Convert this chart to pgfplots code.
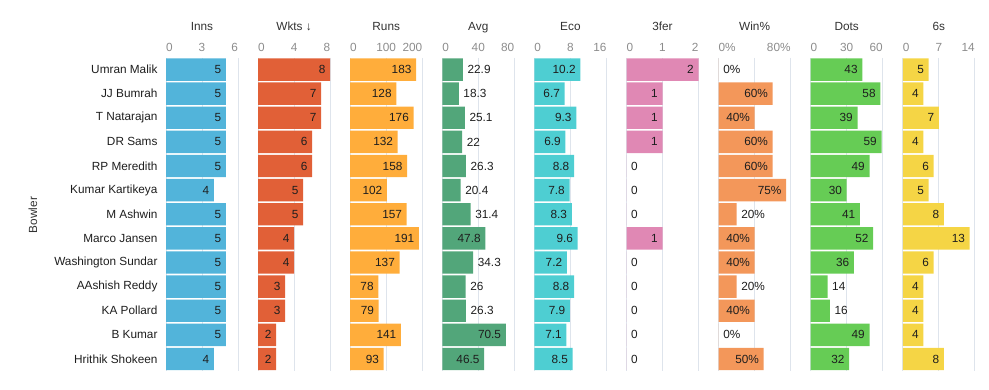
\documentclass[border=0pt]{standalone}
\usepackage{fontspec}
\setmainfont{Liberation Sans}
\usepackage{pgfplots}
\usepackage{pgfplotstable}
\pgfplotsset{compat=1.18}
\definecolor{cInns}{RGB}{82,180,218}
\definecolor{cWkts}{RGB}{225,96,55}
\definecolor{cRuns}{RGB}{255,173,59}
\definecolor{cAvg}{RGB}{82,166,122}
\definecolor{cEco}{RGB}{78,206,210}
\definecolor{cFer}{RGB}{224,136,180}
\definecolor{cWin}{RGB}{243,151,90}
\definecolor{cDots}{RGB}{102,204,85}
\definecolor{cSix}{RGB}{245,213,69}
\definecolor{gridc}{RGB}{222,228,236}
\definecolor{tickc}{RGB}{140,140,140}
\definecolor{titlec}{RGB}{50,50,50}
\definecolor{valc}{RGB}{30,30,30}
\newcommand\valfont{\fontsize{11.8}{13}\selectfont}
\newcommand\lft[1]{\makebox[0pt][l]{#1}}
\newcommand\rgt[1]{\makebox[0pt][r]{#1}}
\pgfplotstableread{
row inns wkts runs avg eco fer win dots six aa fa wa da
1 5 8 183 22.9 10.2 2 0 43 5 west east west east
2 5 7 128 18.3 6.7 1 60 58 4 west east east east
3 5 7 176 25.1 9.3 1 40 39 7 west east east east
4 5 6 132 22 6.9 1 60 59 4 west east east east
5 5 6 158 26.3 8.8 0 60 49 6 west west east east
6 4 5 102 20.4 7.8 0 75 30 5 west west east east
7 5 5 157 31.4 8.3 0 20 41 8 west west west east
8 5 4 191 47.8 9.6 1 40 52 13 east east east east
9 5 4 137 34.3 7.2 0 40 36 6 west west east east
10 5 3 78 26 8.8 0 20 14 4 west west west west
11 5 3 79 26.3 7.9 0 40 16 4 west west east west
12 5 2 141 70.5 7.1 0 0 49 4 east west west east
13 4 2 93 46.5 8.5 0 50 32 8 east west east east
}\data
\tikzset{ttl/.style={font=\valfont, text=titlec, anchor=base, yshift=27.5pt}}
\pgfplotsset{
  /pgf/number format/assume math mode=true,
  panel/.style={
    scale only axis, width=72pt, height=313.5pt, anchor=north west,
    xbar, bar width=22.4pt, xmin=0, ymin=0.5, ymax=13.5, y dir=reverse,
    ytick={1,...,13}, yticklabels={},
    axis line style={draw=none}, major tick length=0pt,
    xmajorgrids, grid style={color=gridc, line width=0.7pt},
    xticklabel pos=upper,
    xticklabel style={font=\valfont, text=tickc, anchor=base, yshift=6pt},
    clip=false,
  },
  bars/.style={fill=#1, draw=none},
  vals/.style={nodes near coords, point meta=x,
    nodes near coords style={font=\valfont, text=valc, inner xsep=4.5pt, anchor=east}},
  valsv/.style={point meta=explicit symbolic,
    nodes near coords={\pgfmathprintnumber{\pgfkeysvalueof{/data point/x}}#1},
    nodes near coords style={font=\valfont, text=valc, inner xsep=4.5pt, anchor=\pgfplotspointmeta}},
}
\begin{document}
\begin{tikzpicture}
\useasboundingbox (0pt,0pt) rectangle (989pt,-389pt);
\node[font=\valfont, text=titlec, rotate=90] at (33pt,-215pt) {Bowler};
% Inns
\begin{axis}[panel, at={(166pt,-57.5pt)}, xmax=6, xtick={0,3,6}, xticklabels={\lft{0},3,\rgt{6}},
  yticklabels={Umran Malik,JJ Bumrah,T Natarajan,DR Sams,RP Meredith,Kumar Kartikeya,M Ashwin,Marco Jansen,Washington Sundar,AAshish Reddy,KA Pollard,B Kumar,Hrithik Shokeen},
  yticklabel style={font=\valfont, text=valc, anchor=east, xshift=-5pt}]
\addplot[bars=cInns, vals] table[x=inns,y=row]{\data};
\node[ttl] at (axis description cs:0.5,1) {Inns};
\end{axis}
% Wkts
\begin{axis}[panel, at={(258.1pt,-57.5pt)}, xmax=8, xtick={0,4,8}, xticklabels={\lft{0},4,\rgt{8}}]
\addplot[bars=cWkts, vals] table[x=wkts,y=row]{\data};
\node[ttl] at (axis description cs:0.5,1) {Wkts ↓};
\end{axis}
% Runs
\begin{axis}[panel, at={(350.2pt,-57.5pt)}, xmax=200, xtick={0,100,200}, xticklabels={\lft{0},100,\rgt{200}}]
\addplot[bars=cRuns, vals] table[x=runs,y=row]{\data};
\node[ttl] at (axis description cs:0.5,1) {Runs};
\end{axis}
% Avg
\begin{axis}[panel, at={(442.3pt,-57.5pt)}, xmax=80, xtick={0,40,80}, xticklabels={\lft{0},40,\rgt{80}}]
\addplot[bars=cAvg, valsv={}] table[x=avg,y=row,meta=aa]{\data};
\node[ttl] at (axis description cs:0.5,1) {Avg};
\end{axis}
% Eco
\begin{axis}[panel, at={(534.4pt,-57.5pt)}, xmax=16, xtick={0,8,16}, xticklabels={\lft{0},8,\rgt{16}}]
\addplot[bars=cEco, vals] table[x=eco,y=row]{\data};
\node[ttl] at (axis description cs:0.5,1) {Eco};
\end{axis}
% 3fer
\begin{axis}[panel, at={(626.5pt,-57.5pt)}, xmax=2, xtick={0,1,2}, xticklabels={\lft{0},1,\rgt{2}}]
\addplot[bars=cFer, valsv={}] table[x=fer,y=row,meta=fa]{\data};
\node[ttl] at (axis description cs:0.5,1) {3fer};
\end{axis}
% Win%
\begin{axis}[panel, at={(718.6pt,-57.5pt)}, xmax=80, xtick={0,40,80}, xticklabels={\lft{0\%},,\rgt{80\%}}]
\addplot[bars=cWin, valsv={\%}] table[x=win,y=row,meta=wa]{\data};
\node[ttl] at (axis description cs:0.5,1) {Win\%};
\end{axis}
% Dots
\begin{axis}[panel, at={(810.7pt,-57.5pt)}, xmax=60, xtick={0,30,60}, xticklabels={\lft{0},30,\rgt{60}}]
\addplot[bars=cDots, valsv={}] table[x=dots,y=row,meta=da]{\data};
\node[ttl] at (axis description cs:0.5,1) {Dots};
\end{axis}
% 6s
\begin{axis}[panel, at={(902.8pt,-57.5pt)}, xmax=14, xtick={0,7,14}, xticklabels={\lft{0},7,\rgt{14}}]
\addplot[bars=cSix, vals] table[x=six,y=row]{\data};
\node[ttl] at (axis description cs:0.5,1) {6s};
\end{axis}
\end{tikzpicture}
\end{document}
